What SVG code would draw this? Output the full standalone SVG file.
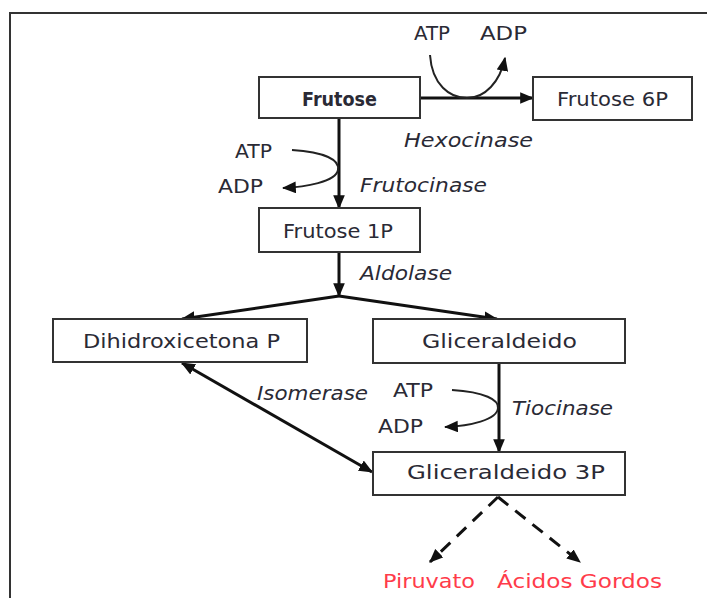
<svg xmlns="http://www.w3.org/2000/svg" width="707" height="598" viewBox="0 0 707 598">
<defs>
<marker id="ah" viewBox="0 0 12 10" refX="11" refY="5" markerWidth="14" markerHeight="12" markerUnits="userSpaceOnUse" orient="auto-start-reverse">
<path d="M0,0 L12,5 L0,10 z" fill="#111"/>
</marker>
<style>
.box{fill:#fff;stroke:#333;stroke-width:2}
.t{font-family:"DejaVu Sans","Liberation Sans",sans-serif;font-size:20px;fill:#2a2a35}
.i{font-style:italic}
.b{font-weight:bold}
.r{fill:#ff3b4a}
.ln{fill:none;stroke:#111;stroke-width:3}
.cv{fill:none;stroke:#222;stroke-width:2}
.ds{fill:none;stroke:#111;stroke-width:3;stroke-dasharray:13 9}
</style>
</defs>
<rect width="707" height="598" fill="#fff"/>
<path d="M10,598 L10,13 L707,13" fill="none" stroke="#333" stroke-width="2"/>

<g id="connectors">
<line class="ln" x1="420" y1="98" x2="533" y2="98" marker-end="url(#ah)"/>
<path class="cv" d="M430,55 C432,85 450,98 467,98 C485,98 500,82 505,58" marker-end="url(#ah)"/>
<line class="ln" x1="339" y1="118" x2="339" y2="208" marker-end="url(#ah)"/>
<path class="cv" d="M292,150 C325,152 340,160 338,170 C336,182 305,187 283,188" marker-end="url(#ah)"/>
<line class="ln" x1="339" y1="252" x2="339" y2="296" marker-end="url(#ah)"/>
<line class="ln" x1="339" y1="296" x2="182" y2="319" marker-end="url(#ah)"/>
<line class="ln" x1="339" y1="296" x2="497" y2="319" marker-end="url(#ah)"/>
<line class="ln" x1="499" y1="363" x2="499" y2="452" marker-end="url(#ah)"/>
<path class="cv" d="M452,390 C485,392 499,400 498,408 C497,420 470,426 445,427" marker-end="url(#ah)"/>
<line class="ln" x1="182" y1="363" x2="372" y2="472" marker-start="url(#ah)" marker-end="url(#ah)"/>
<line class="ds" x1="498" y1="497" x2="430" y2="562" marker-end="url(#ah)"/>
<line class="ds" x1="498" y1="497" x2="580" y2="562" marker-end="url(#ah)"/>
</g>

<g id="frutose">
<rect class="box" x="259" y="77" width="161" height="41"/>
<text class="t b" x="302" y="106" textLength="75" lengthAdjust="spacingAndGlyphs">Frutose</text>
</g>
<g id="frutose6p">
<rect class="box" x="533" y="77" width="159" height="43"/>
<text class="t" x="557" y="106" textLength="111" lengthAdjust="spacingAndGlyphs">Frutose 6P</text>
</g>
<g id="frutose1p">
<rect class="box" x="259" y="208" width="161" height="44"/>
<text class="t" x="283" y="238" textLength="110" lengthAdjust="spacingAndGlyphs">Frutose 1P</text>
</g>
<g id="dihidroxicetona">
<rect class="box" x="53" y="319" width="254" height="43"/>
<text class="t" x="83" y="348" textLength="197" lengthAdjust="spacingAndGlyphs">Dihidroxicetona P</text>
</g>
<g id="gliceraldeido">
<rect class="box" x="373" y="319" width="252" height="44"/>
<text class="t" x="422" y="348" textLength="155" lengthAdjust="spacingAndGlyphs">Gliceraldeido</text>
</g>
<g id="gliceraldeido3p">
<rect class="box" x="373" y="452" width="252" height="43"/>
<text class="t" x="407" y="479" textLength="198" lengthAdjust="spacingAndGlyphs">Gliceraldeido 3P</text>
</g>

<g id="labels">
<text class="t" x="414" y="40" textLength="36" lengthAdjust="spacingAndGlyphs">ATP</text>
<text class="t" x="480" y="40" textLength="47" lengthAdjust="spacingAndGlyphs">ADP</text>
<text class="t i" x="404" y="147" textLength="129" lengthAdjust="spacingAndGlyphs">Hexocinase</text>
<text class="t" x="235" y="158" textLength="37" lengthAdjust="spacingAndGlyphs">ATP</text>
<text class="t" x="218" y="193" textLength="45" lengthAdjust="spacingAndGlyphs">ADP</text>
<text class="t i" x="360" y="192" textLength="127" lengthAdjust="spacingAndGlyphs">Frutocinase</text>
<text class="t i" x="360" y="280" textLength="92" lengthAdjust="spacingAndGlyphs">Aldolase</text>
<text class="t i" x="257" y="400" textLength="111" lengthAdjust="spacingAndGlyphs">Isomerase</text>
<text class="t" x="393" y="397" textLength="40" lengthAdjust="spacingAndGlyphs">ATP</text>
<text class="t" x="378" y="433" textLength="45" lengthAdjust="spacingAndGlyphs">ADP</text>
<text class="t i" x="512" y="415" textLength="101" lengthAdjust="spacingAndGlyphs">Tiocinase</text>
<text class="t r" x="383" y="588" textLength="92" lengthAdjust="spacingAndGlyphs">Piruvato</text>
<text class="t r" x="497" y="588" textLength="165" lengthAdjust="spacingAndGlyphs">Ácidos Gordos</text>
</g>
</svg>
